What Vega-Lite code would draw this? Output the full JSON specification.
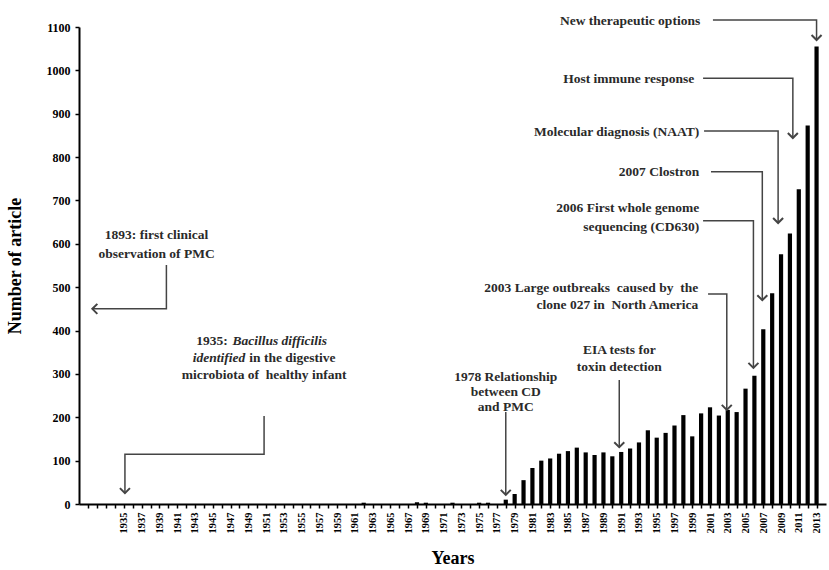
{
  "$schema": "https://vega.github.io/schema/vega-lite/v6.json",
  "autosize": {"type": "none"},
  "padding": {"left": 79, "top": 27, "right": 3, "bottom": 66},
  "width": 747,
  "height": 477,
  "background": "white",
  "config": {
    "view": {"stroke": null},
    "font": "Liberation Serif",
    "text": {"font": "Liberation Serif"}
  },
  "resolve": {"axis": {"x": "independent", "y": "independent"}},
  "datasets": {
    "articles": [
      {"year": 1962, "count": 3}, {"year": 1968, "count": 4}, {"year": 1969, "count": 3},
      {"year": 1972, "count": 3}, {"year": 1975, "count": 3}, {"year": 1976, "count": 3},
      {"year": 1978, "count": 10}, {"year": 1979, "count": 23}, {"year": 1980, "count": 55},
      {"year": 1981, "count": 83}, {"year": 1982, "count": 100}, {"year": 1983, "count": 105},
      {"year": 1984, "count": 116}, {"year": 1985, "count": 122}, {"year": 1986, "count": 130},
      {"year": 1987, "count": 119}, {"year": 1988, "count": 113}, {"year": 1989, "count": 119},
      {"year": 1990, "count": 110}, {"year": 1991, "count": 120}, {"year": 1992, "count": 128},
      {"year": 1993, "count": 142}, {"year": 1994, "count": 170}, {"year": 1995, "count": 153},
      {"year": 1996, "count": 164}, {"year": 1997, "count": 181}, {"year": 1998, "count": 205},
      {"year": 1999, "count": 156}, {"year": 2000, "count": 209}, {"year": 2001, "count": 223},
      {"year": 2002, "count": 204}, {"year": 2003, "count": 217}, {"year": 2004, "count": 212},
      {"year": 2005, "count": 266}, {"year": 2006, "count": 296}, {"year": 2007, "count": 403},
      {"year": 2008, "count": 486}, {"year": 2009, "count": 576}, {"year": 2010, "count": 624},
      {"year": 2011, "count": 726}, {"year": 2012, "count": 873}, {"year": 2013, "count": 1055}
    ],
    "connectors": [
      {"id": "1893", "seq": 1, "x": 1939.78, "y": 551}, {"id": "1893", "seq": 2, "x": 1939.78, "y": 450}, {"id": "1893", "seq": 3, "x": 1931.44, "y": 450},
      {"id": "1935", "seq": 1, "x": 1950.78, "y": 203}, {"id": "1935", "seq": 2, "x": 1950.78, "y": 115}, {"id": "1935", "seq": 3, "x": 1935.11, "y": 115}, {"id": "1935", "seq": 4, "x": 1935.11, "y": 25},
      {"id": "1978", "seq": 1, "x": 1978.0, "y": 212}, {"id": "1978", "seq": 2, "x": 1978.0, "y": 21},
      {"id": "EIA", "seq": 1, "x": 1990.78, "y": 286}, {"id": "EIA", "seq": 2, "x": 1990.78, "y": 131},
      {"id": "2003", "seq": 1, "x": 2000.78, "y": 484}, {"id": "2003", "seq": 2, "x": 2002.89, "y": 484}, {"id": "2003", "seq": 3, "x": 2002.89, "y": 217},
      {"id": "2006", "seq": 1, "x": 2000.22, "y": 653}, {"id": "2006", "seq": 2, "x": 2005.89, "y": 653}, {"id": "2006", "seq": 3, "x": 2005.89, "y": 314},
      {"id": "2007", "seq": 1, "x": 2001.11, "y": 766}, {"id": "2007", "seq": 2, "x": 2006.89, "y": 766}, {"id": "2007", "seq": 3, "x": 2006.89, "y": 470},
      {"id": "NAAT", "seq": 1, "x": 2000.33, "y": 860}, {"id": "NAAT", "seq": 2, "x": 2008.67, "y": 860}, {"id": "NAAT", "seq": 3, "x": 2008.67, "y": 648},
      {"id": "host", "seq": 1, "x": 2000.22, "y": 982}, {"id": "host", "seq": 2, "x": 2010.33, "y": 982}, {"id": "host", "seq": 3, "x": 2010.33, "y": 844},
      {"id": "new", "seq": 1, "x": 2001.33, "y": 1116}, {"id": "new", "seq": 2, "x": 2013.0, "y": 1116}, {"id": "new", "seq": 3, "x": 2013.0, "y": 1070}
    ],
    "arrowsDown": [
      {"x": 1935.11, "y": 25}, {"x": 1978.0, "y": 21}, {"x": 1990.78, "y": 131},
      {"x": 2002.89, "y": 217}, {"x": 2005.89, "y": 314}, {"x": 2006.89, "y": 470},
      {"x": 2008.67, "y": 648}, {"x": 2010.33, "y": 844}, {"x": 2013.0, "y": 1070}
    ],
    "arrowsLeft": [{"x": 1931.44, "y": 450}],
    "labelsCenter": [
      {"x": 1938.67, "y": 620, "text": "1893: first clinical"},
      {"x": 1938.67, "y": 577, "text": "observation of PMC"},
      {"x": 1950.78, "y": 297, "text": "microbiota of\u00a0 healthy infant"},
      {"x": 1978.0, "y": 293, "text": "1978 Relationship"},
      {"x": 1978.0, "y": 258, "text": "between CD"},
      {"x": 1978.0, "y": 224, "text": "and PMC"},
      {"x": 1990.78, "y": 355, "text": "EIA tests for"},
      {"x": 1990.78, "y": 316, "text": "toxin detection"}
    ],
    "labelsRight": [
      {"x": 1946.7, "y": 376, "text": "1935:"},
      {"x": 1999.67, "y": 498, "text": "2003 Large outbreaks\u00a0 caused by\u00a0 the"},
      {"x": 1999.67, "y": 459, "text": "clone 027 in\u00a0 North America"},
      {"x": 1999.78, "y": 683, "text": "2006 First whole genome"},
      {"x": 1999.78, "y": 639, "text": "sequencing (CD630)"},
      {"x": 1999.78, "y": 766, "text": "2007 Clostron"},
      {"x": 1999.78, "y": 858, "text": "Molecular diagnosis (NAAT)"},
      {"x": 1999.22, "y": 980, "text": "Host immune response"},
      {"x": 1999.89, "y": 1114, "text": "New therapeutic options"}
    ],
    "labelsLeft": [
      {"x": 1949.11, "y": 337, "text": "in the digestive"}
    ],
    "italicLeft": [
      {"x": 1947.22, "y": 376, "text": "Bacillus difficilis"}
    ],
    "italicRight": [
      {"x": 1948.67, "y": 337, "text": "identified"}
    ]
  },
  "layer": [
    {
      "data": {"name": "articles"},
      "mark": {"type": "bar", "color": "#000000", "width": 4.2, "orient": "vertical"},
      "encoding": {
        "x": {
          "field": "year", "type": "quantitative",
          "scale": {"domain": [1930.5, 2013.5], "nice": false, "zero": false},
          "axis": {
            "title": "Years",
            "values": [1931,1932,1933,1934,1935,1936,1937,1938,1939,1940,1941,1942,1943,1944,1945,1946,1947,1948,1949,1950,1951,1952,1953,1954,1955,1956,1957,1958,1959,1960,1961,1962,1963,1964,1965,1966,1967,1968,1969,1970,1971,1972,1973,1974,1975,1976,1977,1978,1979,1980,1981,1982,1983,1984,1985,1986,1987,1988,1989,1990,1991,1992,1993,1994,1995,1996,1997,1998,1999,2000,2001,2002,2003,2004,2005,2006,2007,2008,2009,2010,2011,2012,2013],
            "format": "d",
            "labelExpr": "datum.value >= 1935 && datum.value % 2 == 1 ? datum.label : ''",
            "labelAngle": -90,
            "labelAlign": "right",
            "labelBaseline": "middle",
            "labelFont": "Liberation Serif",
            "labelFontWeight": "bold",
            "labelFontSize": 10.5,
            "labelColor": "#000000",
            "labelPadding": 4,
            "labelOverlap": false,
            "labelFlush": false,
            "domainColor": "#000000",
            "domainWidth": 2,
            "tickColor": "#000000",
            "tickSize": 4,
            "tickWidth": 1.5,
            "grid": false,
            "titleFont": "Liberation Serif",
            "titleFontWeight": "bold",
            "titleFontSize": 18,
            "titleColor": "#000000",
            "titlePadding": 16
          }
        },
        "y": {
          "field": "count", "type": "quantitative",
          "scale": {"domain": [0, 1100], "nice": false},
          "axis": {
            "title": "Number of article",
            "values": [0,100,200,300,400,500,600,700,800,900,1000,1100],
            "format": "d",
            "labelFont": "Liberation Serif",
            "labelFontWeight": "bold",
            "labelFontSize": 12,
            "labelColor": "#000000",
            "labelPadding": 5,
            "domainColor": "#000000",
            "domainWidth": 2,
            "tickColor": "#000000",
            "tickSize": 4,
            "tickWidth": 1.5,
            "grid": false,
            "titleFont": "Liberation Serif",
            "titleFontWeight": "bold",
            "titleFontSize": 18,
            "titleColor": "#000000",
            "titlePadding": 22
          }
        }
      }
    },
    {
      "data": {"name": "connectors"},
      "mark": {"type": "line", "color": "#444444", "strokeWidth": 1.5},
      "encoding": {
        "x": {"field": "x", "type": "quantitative", "scale": {"domain": [1930.5, 2013.5], "nice": false, "zero": false}, "axis": null},
        "y": {"field": "y", "type": "quantitative", "scale": {"domain": [0, 1100], "nice": false}, "axis": null},
        "detail": {"field": "id"},
        "order": {"field": "seq", "type": "quantitative"}
      }
    },
    {
      "data": {"name": "arrowsDown"},
      "mark": {"type": "point", "shape": "M-1,-1L0,0L1,-1", "filled": false, "stroke": "#444444", "strokeWidth": 2, "size": 100, "opacity": 1},
      "encoding": {
        "x": {"field": "x", "type": "quantitative", "scale": {"domain": [1930.5, 2013.5], "nice": false, "zero": false}, "axis": null},
        "y": {"field": "y", "type": "quantitative", "scale": {"domain": [0, 1100], "nice": false}, "axis": null}
      }
    },
    {
      "data": {"name": "arrowsLeft"},
      "mark": {"type": "point", "shape": "M1,-1L0,0L1,1", "filled": false, "stroke": "#444444", "strokeWidth": 2, "size": 100, "opacity": 1},
      "encoding": {
        "x": {"field": "x", "type": "quantitative", "scale": {"domain": [1930.5, 2013.5], "nice": false, "zero": false}, "axis": null},
        "y": {"field": "y", "type": "quantitative", "scale": {"domain": [0, 1100], "nice": false}, "axis": null}
      }
    },
    {
      "data": {"name": "labelsCenter"},
      "mark": {"type": "text", "align": "center", "baseline": "middle", "font": "Liberation Serif", "fontWeight": "bold", "fontSize": 13.5, "color": "#2a2a2a"},
      "encoding": {
        "x": {"field": "x", "type": "quantitative", "scale": {"domain": [1930.5, 2013.5], "nice": false, "zero": false}, "axis": null},
        "y": {"field": "y", "type": "quantitative", "scale": {"domain": [0, 1100], "nice": false}, "axis": null},
        "text": {"field": "text"}
      }
    },
    {
      "data": {"name": "labelsRight"},
      "mark": {"type": "text", "align": "right", "baseline": "middle", "font": "Liberation Serif", "fontWeight": "bold", "fontSize": 13.5, "color": "#2a2a2a"},
      "encoding": {
        "x": {"field": "x", "type": "quantitative", "scale": {"domain": [1930.5, 2013.5], "nice": false, "zero": false}, "axis": null},
        "y": {"field": "y", "type": "quantitative", "scale": {"domain": [0, 1100], "nice": false}, "axis": null},
        "text": {"field": "text"}
      }
    },
    {
      "data": {"name": "labelsLeft"},
      "mark": {"type": "text", "align": "left", "baseline": "middle", "font": "Liberation Serif", "fontWeight": "bold", "fontSize": 13.5, "color": "#2a2a2a"},
      "encoding": {
        "x": {"field": "x", "type": "quantitative", "scale": {"domain": [1930.5, 2013.5], "nice": false, "zero": false}, "axis": null},
        "y": {"field": "y", "type": "quantitative", "scale": {"domain": [0, 1100], "nice": false}, "axis": null},
        "text": {"field": "text"}
      }
    },
    {
      "data": {"name": "italicLeft"},
      "mark": {"type": "text", "align": "left", "baseline": "middle", "font": "Liberation Serif", "fontWeight": "bold", "fontStyle": "italic", "fontSize": 13.5, "color": "#2a2a2a"},
      "encoding": {
        "x": {"field": "x", "type": "quantitative", "scale": {"domain": [1930.5, 2013.5], "nice": false, "zero": false}, "axis": null},
        "y": {"field": "y", "type": "quantitative", "scale": {"domain": [0, 1100], "nice": false}, "axis": null},
        "text": {"field": "text"}
      }
    },
    {
      "data": {"name": "italicRight"},
      "mark": {"type": "text", "align": "right", "baseline": "middle", "font": "Liberation Serif", "fontWeight": "bold", "fontStyle": "italic", "fontSize": 13.5, "color": "#2a2a2a"},
      "encoding": {
        "x": {"field": "x", "type": "quantitative", "scale": {"domain": [1930.5, 2013.5], "nice": false, "zero": false}, "axis": null},
        "y": {"field": "y", "type": "quantitative", "scale": {"domain": [0, 1100], "nice": false}, "axis": null},
        "text": {"field": "text"}
      }
    }
  ]
}
